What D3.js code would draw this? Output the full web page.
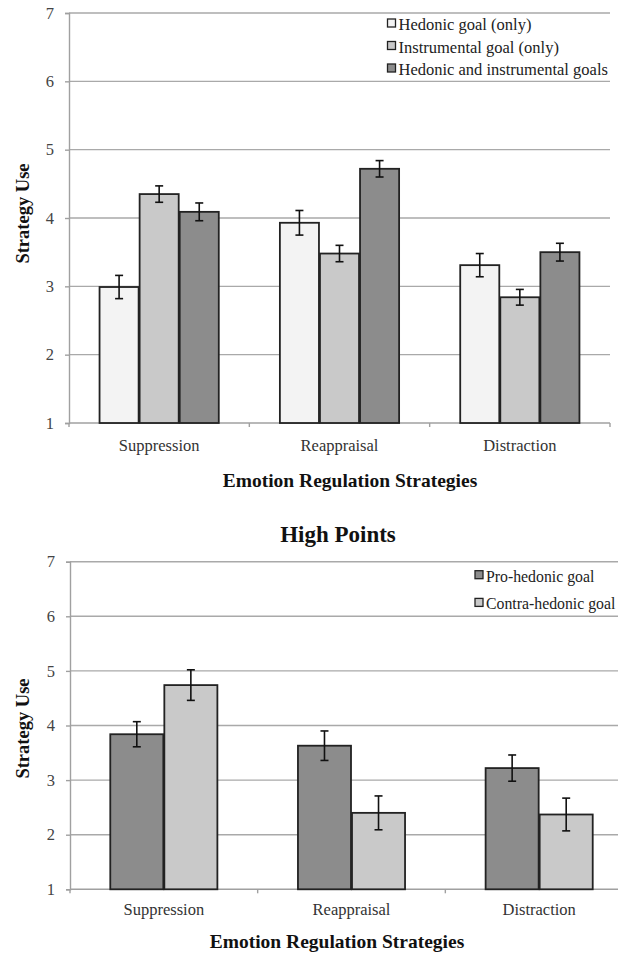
<!DOCTYPE html>
<html>
<head>
<meta charset="utf-8">
<script src="https://cdn.jsdelivr.net/npm/d3@7"></script>
<style>
  html, body { margin: 0; padding: 0; background: #fff; }
  svg { display: block; }
</style>
</head>
<body>
<svg id="chart" width="618" height="956"></svg>
<script>
// ---------- DATA ----------
const categories = ["Suppression", "Reappraisal", "Distraction"];
const yTicks = [1, 2, 3, 4, 5, 6, 7];

const topSeries = ["Hedonic goal (only)", "Instrumental goal (only)", "Hedonic and instrumental goals"];
const topHedonic = [2.99, 3.93, 3.31];
const topInstrumental = [4.35, 3.48, 2.84];
const topBoth = [4.09, 4.72, 3.50];
const topHedonicErr = [0.17, 0.18, 0.17];
const topInstrumentalErr = [0.12, 0.12, 0.115];
const topBothErr = [0.13, 0.12, 0.13];

const bottomTitle = "High Points";
const bottomSeries = ["Pro-hedonic goal", "Contra-hedonic goal"];
const bottomPro = [3.84, 3.63, 3.22];
const bottomContra = [4.74, 2.40, 2.37];
const bottomProErr = [0.23, 0.27, 0.24];
const bottomContraErr = [0.28, 0.31, 0.30];

const xTitle = "Emotion Regulation Strategies";
const yTitle = "Strategy Use";

// ---------- DRAW ----------
const FONT = "'Liberation Serif', 'DejaVu Serif', serif";
const svg = d3.select("#chart").attr("font-family", FONT).style("font-family", FONT);

function panel(opts) {
  const g = svg.append("g");
  const x = d3.scaleBand().domain(categories).range([opts.x0, opts.x1]).paddingInner(0).paddingOuter(0);
  const y = d3.scaleLinear().domain([1, 7]).range([opts.yBottom, opts.yTop]);
  const inner = d3.scaleBand().domain(opts.series.map((s, i) => i))
    .range([x.bandwidth() * opts.groupPad, x.bandwidth() * (1 - opts.groupPad)]).padding(0);

  // gridlines
  g.append("g").selectAll("line").data(yTicks.filter(t => t > 1)).join("line")
    .attr("x1", opts.x0).attr("x2", opts.x1)
    .attr("y1", d => y(d)).attr("y2", d => y(d))
    .attr("stroke", "#a9a9a9").attr("stroke-width", 1.4);

  // y axis
  const ya = g.append("g").attr("transform", `translate(${opts.x0},0)`)
    .call(d3.axisLeft(y).tickValues(yTicks).tickSize(4).tickPadding(11).tickFormat(d3.format("d")));
  ya.attr("font-family", FONT);
  ya.select(".domain").attr("stroke", "#a0a0a0").attr("stroke-width", 1.4);
  ya.selectAll(".tick line").attr("stroke", "#a0a0a0").attr("stroke-width", 1.4);
  ya.selectAll(".tick text").attr("fill", "#444").style("font-size", "16.5px")
    .style("font-family", FONT);

  // x axis (boundary ticks)
  const xa = g.append("g").attr("transform", `translate(0,${opts.yBottom})`);
  xa.append("line").attr("x1", opts.x0).attr("x2", opts.x1).attr("stroke", "#a0a0a0").attr("stroke-width", 1.4);
  const bounds = categories.map(c => x(c)).concat([opts.x1]);
  xa.selectAll("line.tk").data(bounds).join("line").attr("class", "tk")
    .attr("x1", d => d).attr("x2", d => d).attr("y1", 0).attr("y2", 4)
    .attr("stroke", "#a0a0a0").attr("stroke-width", 1.4);
  xa.selectAll("text").data(categories).join("text")
    .attr("x", d => x(d) + x.bandwidth() / 2).attr("y", opts.catLabelDy)
    .attr("text-anchor", "middle").attr("fill", "#333").style("font-size", "16.5px")
    .style("font-family", FONT)
    .text(d => d);

  // bars
  opts.series.forEach((s, si) => {
    const vals = opts.values[si], errs = opts.errors[si];
    const bg = g.append("g");
    bg.selectAll("rect").data(categories).join("rect")
      .attr("x", (c) => x(c) + inner(si) + 0.5)
      .attr("width", inner.bandwidth() - 1)
      .attr("y", (c, i) => y(vals[i]))
      .attr("height", (c, i) => y(1) - y(vals[i]))
      .attr("fill", opts.colors[si]).attr("stroke", "#222").attr("stroke-width", 1.8);
    const eg = g.append("g").attr("stroke", "#111").attr("stroke-width", 1.6);
    categories.forEach((c, i) => {
      const cx = x(c) + inner(si) + inner.bandwidth() / 2;
      const yt = y(vals[i] + errs[i]), yb = y(vals[i] - errs[i]);
      eg.append("line").attr("x1", cx).attr("x2", cx).attr("y1", yt).attr("y2", yb);
      eg.append("line").attr("x1", cx - 4).attr("x2", cx + 4).attr("y1", yt).attr("y2", yt);
      eg.append("line").attr("x1", cx - 4).attr("x2", cx + 4).attr("y1", yb).attr("y2", yb);
    });
  });

  // legend
  const lg = g.append("g");
  opts.series.forEach((s, si) => {
    const ly = opts.legendY + si * opts.legendStep;
    lg.append("rect").attr("x", opts.legendX).attr("y", ly - 11).attr("width", 8).attr("height", 8)
      .attr("fill", opts.colors[si]).attr("stroke", "#222").attr("stroke-width", 1.3);
    lg.append("text").attr("x", opts.legendX + 11).attr("y", ly)
      .attr("fill", "#222").style("font-size", opts.legendFont).style("font-family", FONT).text(s);
  });

  // axis titles
  g.append("text").attr("x", opts.xTitleX).attr("y", opts.xTitleY).attr("text-anchor", "middle")
    .style("font-size", "19.5px").style("font-weight", "bold").style("font-family", FONT)
    .attr("fill", "#111").text(xTitle);
  g.append("text").attr("transform", `translate(${opts.yTitleX},${opts.yTitleY}) rotate(-90)`)
    .attr("text-anchor", "middle").style("font-size", "18.5px").style("font-weight", "bold")
    .style("font-family", FONT).attr("fill", "#111").text(yTitle);
  if (opts.title) {
    g.append("text").attr("x", opts.titleX).attr("y", opts.titleY).attr("text-anchor", "middle")
      .style("font-size", "23px").style("font-weight", "bold").style("font-family", FONT)
      .attr("fill", "#111").text(opts.title);
  }
}

panel({
  x0: 69, x1: 610, yTop: 13, yBottom: 423,
  series: topSeries,
  values: [topHedonic, topInstrumental, topBoth],
  errors: [topHedonicErr, topInstrumentalErr, topBothErr],
  colors: ["#f3f3f3", "#c9c9c9", "#8c8c8c"],
  groupPad: 1 / 6,
  catLabelDy: 28,
  legendX: 387.5, legendY: 30, legendStep: 22.5, legendFont: "16.5px",
  xTitleX: 350, xTitleY: 487,
  yTitleX: 28.5, yTitleY: 213.5
});

panel({
  x0: 70, x1: 633, yTop: 561.7, yBottom: 889.3,
  series: bottomSeries,
  values: [bottomPro, bottomContra],
  errors: [bottomProErr, bottomContraErr],
  colors: ["#8c8c8c", "#c9c9c9"],
  groupPad: 0.212,
  catLabelDy: 26,
  legendX: 475, legendY: 581.7, legendStep: 27.7, legendFont: "15.8px",
  xTitleX: 337, xTitleY: 948,
  yTitleX: 28.5, yTitleY: 728.5,
  title: bottomTitle, titleX: 338, titleY: 541.5
});
</script>
</body>
</html>
